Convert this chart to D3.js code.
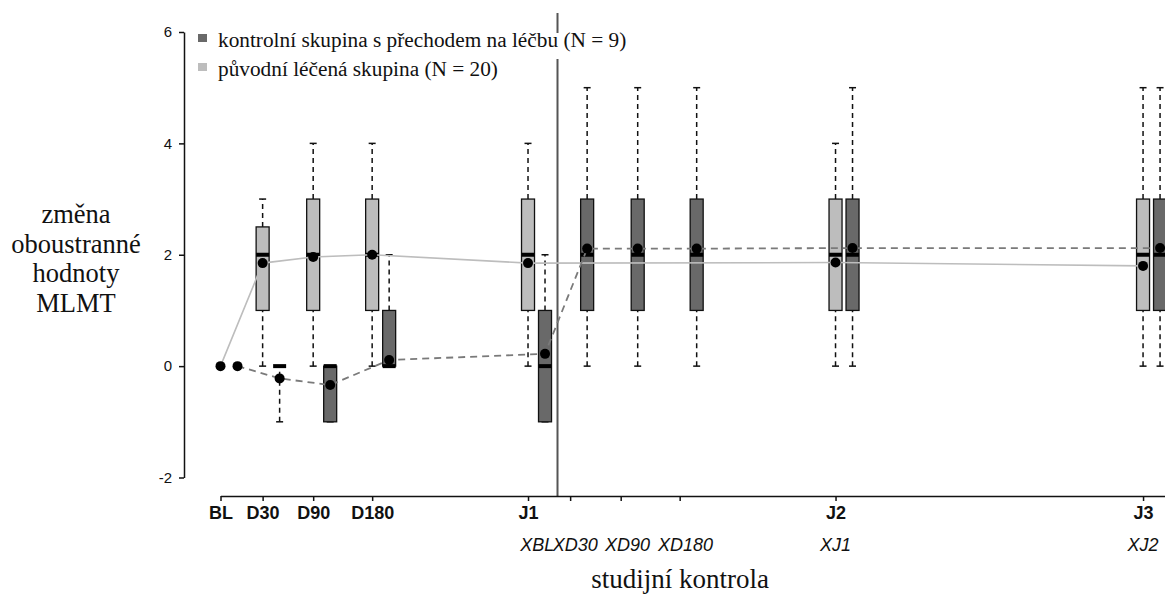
<!DOCTYPE html>
<html>
<head>
<meta charset="utf-8">
<script src="https://cdn.jsdelivr.net/npm/d3@7/dist/d3.min.js"></script>
<style>
  body { margin: 0; background: #fff; }
</style>
</head>
<body>
<svg id="chart" width="1165" height="599"></svg>
<script>
// study visits, position on the time axis (days)
const tickDays = [0, 50, 110, 180, 365, 415, 475, 545, 730, 1095];
const tickLabels = ["BL", "D30", "D90", "D180", "J1", "", "", "", "J2", "J3"];
const crossLabels = ["XBL", "XD30", "XD90", "XD180", "XJ1", "XJ2"];
const crossLabelDays = [376, 421, 483, 552, 730, 1095];
const switchDay = 400;

// original treated group (N = 20)
const treatedDays = [0, 50, 110, 180, 365, 730, 1095];
const treatedMean = [0, 1.85, 1.96, 2.0, 1.85, 1.86, 1.8];
// [min, q1, median, q3, max]
const treatedBox = [
  null,
  [0, 1, 2, 2.5, 3],
  [0, 1, 2, 3, 4],
  [0, 1, 2, 3, 4],
  [0, 1, 2, 3, 4],
  [0, 1, 2, 3, 4],
  [0, 1, 2, 3, 5],
];

// control group switching to treatment (N = 9)
const controlDays = [0, 50, 110, 180, 365, 415, 475, 545, 730, 1095];
const controlMean = [0, -0.22, -0.34, 0.11, 0.22, 2.11, 2.11, 2.11, 2.12, 2.12];
const controlBox = [
  null,
  [-1, 0, 0, 0, 0],
  [-1, -1, 0, 0, 0],
  [0, 0, 0, 1, 2],
  [-1, -1, 0, 1, 2],
  [0, 1, 2, 3, 5],
  [0, 1, 2, 3, 5],
  [0, 1, 2, 3, 5],
  [0, 1, 2, 3, 5],
  [0, 1, 2, 3, 5],
];

const legendLabels = [
  "kontrolní skupina s přechodem na léčbu (N = 9)",
  "původní léčená skupina (N = 20)",
];
const yTitle = ["změna", "oboustranné", "hodnoty", "MLMT"];
const xTitle = "studijní kontrola";

const sans = "'Liberation Sans', Arial, sans-serif";
const serif = "'Liberation Serif', 'Times New Roman', serif";
const darkFill = "#696969";
const lightFill = "#bdbdbd";

const svg = d3.select("#chart");

const x = d3.scaleLinear().domain([0, 1122]).range([220.5, 1165.8]);
const y = d3.scaleLinear().domain([-2, 6]).range([477.5, 32]);
const axisY = 496;
const dodge = 17;
const boxW = 13;

// separator at the switch to treatment
svg
  .append("line")
  .attr("x1", x(switchDay))
  .attr("x2", x(switchDay))
  .attr("y1", 13)
  .attr("y2", axisY)
  .attr("stroke", "#555")
  .attr("stroke-width", 2);

// boxplots
function drawBoxes(days, stats, shift, fill) {
  const g = svg.append("g");
  days.forEach((d, i) => {
    const s = stats[i];
    if (!s) return;
    const cx = x(d) + shift;
    const [lo, q1, med, q3, hi] = s;
    // whiskers
    [[lo, q1], [q3, hi]].forEach(([a, b]) => {
      if (a === b) return;
      g.append("line")
        .attr("x1", cx).attr("x2", cx)
        .attr("y1", y(a)).attr("y2", y(b))
        .attr("stroke", "#111")
        .attr("stroke-width", 1.5)
        .attr("stroke-dasharray", "5,4");
    });
    [lo, hi].forEach((v) => {
      g.append("line")
        .attr("x1", cx - 3.5).attr("x2", cx + 3.5)
        .attr("y1", y(v)).attr("y2", y(v))
        .attr("stroke", "#111")
        .attr("stroke-width", 1.5);
    });
    g.append("rect")
      .attr("x", cx - boxW / 2)
      .attr("y", y(q3))
      .attr("width", boxW)
      .attr("height", y(q1) - y(q3))
      .attr("fill", fill)
      .attr("stroke", "#111")
      .attr("stroke-width", 1.3);
    g.append("line")
      .attr("x1", cx - boxW / 2).attr("x2", cx + boxW / 2)
      .attr("y1", y(med)).attr("y2", y(med))
      .attr("stroke", "#000")
      .attr("stroke-width", 4);
  });
}

drawBoxes(treatedDays, treatedBox, 0, lightFill);
drawBoxes(controlDays, controlBox, dodge, darkFill);

// mean lines
const treatedLine = d3.line().x((d) => x(d[0])).y((d) => y(d[1]));
const controlLine = d3.line().x((d) => x(d[0]) + dodge).y((d) => y(d[1]));

svg
  .append("path")
  .datum(d3.zip(treatedDays, treatedMean))
  .attr("fill", "none")
  .attr("stroke", "#bdbdbd")
  .attr("stroke-width", 1.6)
  .attr("d", treatedLine);

svg
  .append("path")
  .datum(d3.zip(controlDays, controlMean))
  .attr("fill", "none")
  .attr("stroke", "#7a7a7a")
  .attr("stroke-width", 1.8)
  .attr("stroke-dasharray", "7,5")
  .attr("d", controlLine);

// mean points
svg
  .selectAll(".dotT")
  .data(d3.zip(treatedDays, treatedMean))
  .enter()
  .append("circle")
  .attr("cx", (d) => x(d[0]))
  .attr("cy", (d) => y(d[1]))
  .attr("r", 5)
  .attr("fill", "#000");

svg
  .selectAll(".dotC")
  .data(d3.zip(controlDays, controlMean))
  .enter()
  .append("circle")
  .attr("cx", (d) => x(d[0]) + dodge)
  .attr("cy", (d) => y(d[1]))
  .attr("r", 5)
  .attr("fill", "#000");

// y axis
const yAxis = svg
  .append("g")
  .attr("transform", "translate(184,0)")
  .call(
    d3
      .axisLeft(y)
      .tickValues([-2, 0, 2, 4, 6])
      .tickFormat((d) => String(d))
      .tickSize(5)
      .tickSizeOuter(0)
      .tickPadding(7)
  );
yAxis.selectAll("path, line").attr("stroke", "#111").attr("stroke-width", 1.5);
yAxis.selectAll("text").attr("font-family", sans).attr("font-size", 15).attr("fill", "#111");

// x axis
const xAxis = svg
  .append("g")
  .attr("transform", `translate(0,${axisY})`)
  .call(
    d3
      .axisBottom(x)
      .tickValues(tickDays)
      .tickFormat((d, i) => tickLabels[i])
      .tickSize(5)
      .tickSizeOuter(0)
  );
xAxis.selectAll("path, line").attr("stroke", "#111").attr("stroke-width", 1.5);
xAxis
  .selectAll("text")
  .attr("font-family", sans)
  .attr("font-size", 18)
  .attr("font-weight", "bold")
  .attr("fill", "#111")
  .attr("dy", 0)
  .attr("y", 23);

svg
  .selectAll(".crossLab")
  .data(crossLabels)
  .enter()
  .append("text")
  .attr("x", (d, i) => x(crossLabelDays[i]))
  .attr("y", 551)
  .attr("text-anchor", "middle")
  .attr("font-family", sans)
  .attr("font-size", 18)
  .attr("font-style", "italic")
  .attr("fill", "#111")
  .text((d) => d);

// legend (white backing hides the separator behind the text)
const legendFill = [darkFill, lightFill];
legendLabels.forEach((lab, i) => {
  const by = 47 + i * 29;
  const row = svg.append("g");
  const t = row
    .append("text")
    .attr("x", 218)
    .attr("y", by)
    .attr("font-family", serif)
    .attr("font-size", 21.3)
    .attr("fill", "#111")
    .text(lab);
  const bb = t.node().getBBox();
  row
    .insert("rect", ":first-child")
    .attr("x", bb.x - 2)
    .attr("y", by - 14)
    .attr("width", bb.width + 6)
    .attr("height", 26)
    .attr("fill", "#fff");
  row
    .append("rect")
    .attr("x", 198)
    .attr("y", by - 13)
    .attr("width", 9)
    .attr("height", 8)
    .attr("fill", legendFill[i]);
});

// titles
svg
  .append("text")
  .attr("font-family", serif)
  .attr("font-size", 26.5)
  .attr("fill", "#111")
  .attr("text-anchor", "middle")
  .selectAll("tspan")
  .data(yTitle)
  .enter()
  .append("tspan")
  .attr("x", 76)
  .attr("y", (d, i) => 223 + i * 29.7)
  .text((d) => d);

svg
  .append("text")
  .attr("x", 680)
  .attr("y", 588)
  .attr("text-anchor", "middle")
  .attr("font-family", serif)
  .attr("font-size", 27)
  .attr("fill", "#111")
  .text(xTitle);
</script>
</body>
</html>
